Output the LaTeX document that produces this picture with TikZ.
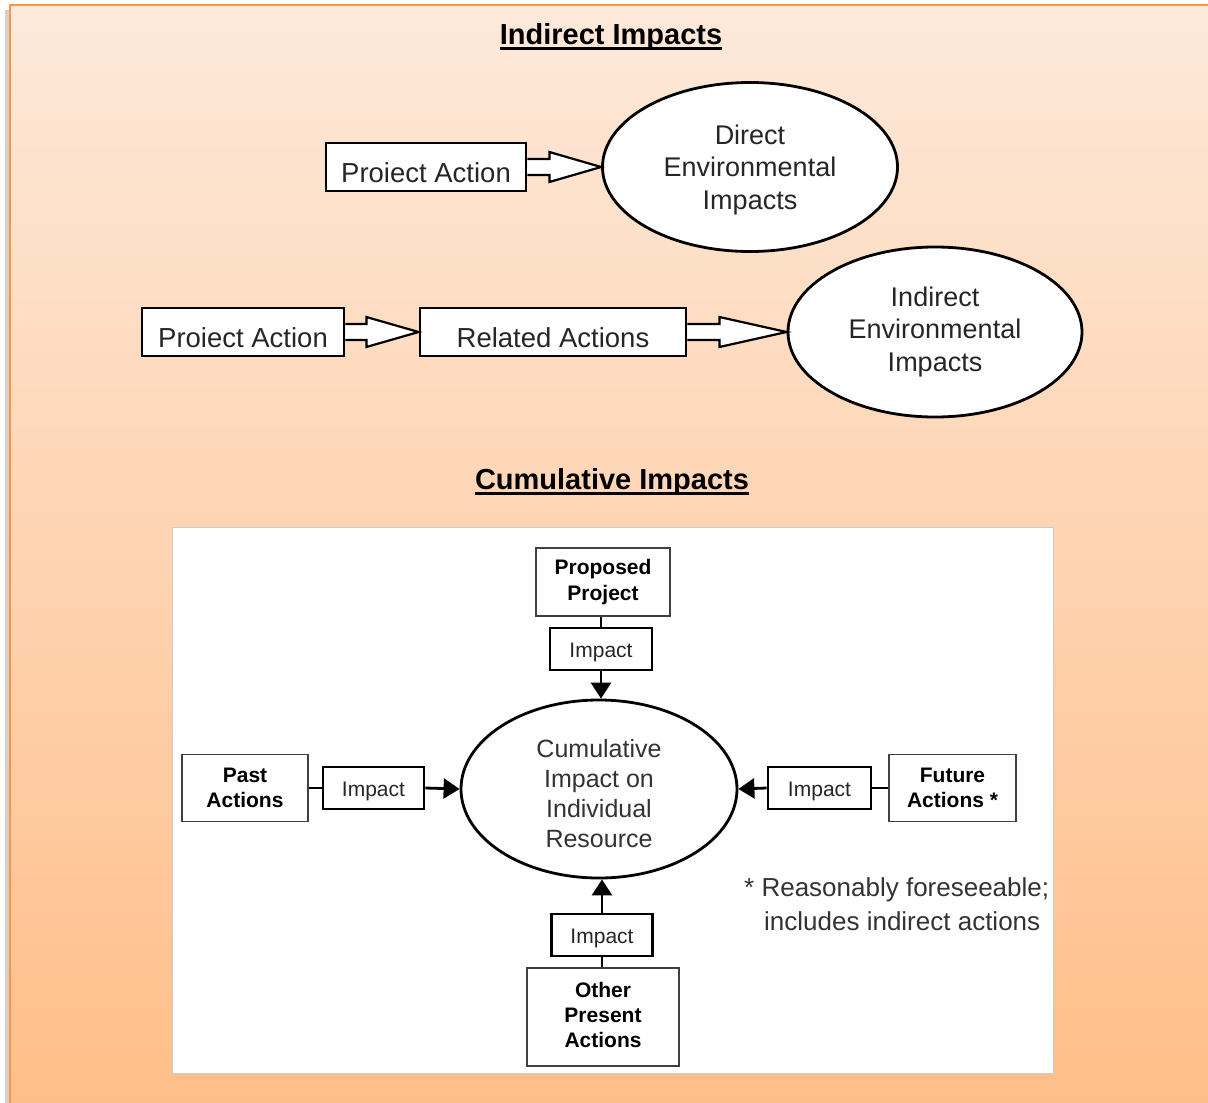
\documentclass[tikz,border=0pt]{standalone}
\usepackage{fontspec}
\setmainfont{Liberation Sans}
\usetikzlibrary{shapes.geometric,arrows.meta,calc}
\definecolor{bgtop}{HTML}{FDE9DA}
\definecolor{bgbot}{HTML}{FFBE88}
\definecolor{bord}{HTML}{F79646}
\newcommand\blockarrow[3]{\draw[blk] ($(#1.east)+(0,-8)$) -- ++(#3,0) -- ++(0,-7) -- (#2.west) -- ($(#1.east)+(#3,15)$) -- ++(0,-7) -- ($(#1.east)+(0,8)$);}
\begin{document}
\begin{tikzpicture}[x=1pt,y=-1pt,
 topbox/.style={draw=black, line width=2.8pt, fill=white, inner sep=0pt, text=black!85, font=\fontsize{27.5}{32}\selectfont, text height=30pt, text depth=0pt},
 topell/.style={ellipse, draw=black, line width=2.8pt, fill=white, inner sep=0pt, align=center, text=black!85, font=\fontsize{27}{32.5}\selectfont},
 blk/.style={draw=black, line width=2.2pt, fill=white, line join=miter},
 outbox/.style={draw=black!75, line width=1.5pt, fill=white, inner sep=0pt, align=center, font=\bfseries\fontsize{21}{25.5}\selectfont},
 impbox/.style={draw=black, line width=2.8pt, fill=white, inner sep=0pt, text=black!85, font=\fontsize{21}{24}\selectfont, text height=17pt, text depth=0pt},
 link/.style={line width=2.8pt},
 arr/.style={line width=2.8pt, -{Triangle[length=16pt,width=20pt]}},
 title/.style={font=\bfseries\fontsize{29}{34}\selectfont, inner sep=0pt, anchor=base},
 note/.style={anchor=west, inner sep=0pt, text=black!80, font=\fontsize{26}{30}\selectfont}
]
\useasboundingbox (0,0) rectangle (1208,1103);
% page background
\fill[black!18] (5,10) rectangle (12,1110);
\shade[top color=bgtop, bottom color=bgbot] (10,5) rectangle (1215,1110);
\draw[bord, line width=2pt] (1215,5) -- (10,5) -- (10,1110);

% ---- Indirect impacts ----
\node[title] (t1) at (611,44) {Indirect Impacts};
\draw[line width=2.5pt] ([yshift=-4.5pt]t1.base west) -- ([yshift=-4.5pt]t1.base east);

\node[topbox, minimum width=200pt, minimum height=48pt] (pa1) at (426,167) {Proiect Action};
\node[topell, minimum width=295pt, minimum height=169pt, label={[align=center, text=black!85, font=\fontsize{27}{32.5}\selectfont, yshift=-3pt]center:Direct\\Environmental\\Impacts}] (de) at (750,167) {};
\blockarrow{pa1}{de}{22}

\node[topbox, minimum width=202pt, minimum height=48pt] (pa2) at (243,332) {Proiect Action};
\node[topbox, minimum width=266pt, minimum height=48pt] (ra) at (553,332) {Related Actions};
\node[topell, minimum width=294pt, minimum height=170pt] (ie) at (935,332) {Indirect\\Environmental\\Impacts};
\blockarrow{pa2}{ra}{21}
\blockarrow{ra}{ie}{32}

% ---- Cumulative impacts ----
\node[title] (t2) at (612,489) {Cumulative Impacts};
\draw[line width=2.5pt] ([yshift=-4.5pt]t2.base west) -- ([yshift=-4.5pt]t2.base east);

\filldraw[fill=white, draw=black!20, line width=0.8pt] (172,527) rectangle (1053,1073);

\node[outbox, minimum width=134pt, minimum height=68pt, text depth=4pt] (pp) at (603,582) {Proposed\\Project};
\node[impbox, minimum width=102pt, minimum height=42pt] (it) at (601,649) {Impact};
\node[ellipse, draw=black, line width=2.8pt, fill=white, minimum width=276pt, minimum height=178pt, inner sep=0pt,
  label={[align=center, text=black!80, font=\fontsize{25}{30}\selectfont, yshift=-5pt]center:Cumulative\\Impact on\\Individual\\Resource}] (ce) at (599,789) {};

\node[outbox, minimum width=126pt, minimum height=67pt] (pa) at (245,788) {Past\\Actions};
\node[impbox, minimum width=101pt, minimum height=42pt] (il) at (373.5,788) {Impact};
\node[impbox, minimum width=103pt, minimum height=42pt] (ir) at (819.5,788) {Impact};
\node[outbox, minimum width=127pt, minimum height=67pt] (fa) at (952.5,788) {Future\\Actions *};
\node[impbox, minimum width=101pt, minimum height=42pt] (ib) at (602,935) {Impact};
\node[outbox, minimum width=152pt, minimum height=98pt, label={[align=center, font=\bfseries\fontsize{21}{25}\selectfont, yshift=2.5pt]center:Other\\Present\\Actions}] (op) at (603,1017) {};

\draw[link] (it.north |- pp.south) -- (it.north);
\draw[arr] (it.south) -- (it.south |- ce.north);
\draw[link] (pa.east) -- (il.west);
\draw[arr] (il.east) -- (ce.west);
\draw[link] (fa.west) -- (ir.east);
\draw[arr] (ir.west) -- (ce.east);
\draw[arr] (ib.north) -- (ib.north |- ce.south);
\draw[link] (ib.south |- op.north) -- (ib.south);

\node[note] (fn1) at (744,890) {* Reasonably foreseeable;};
\node[note] (fn2) at (764,921) {includes indirect actions};
\end{tikzpicture}
\end{document}
